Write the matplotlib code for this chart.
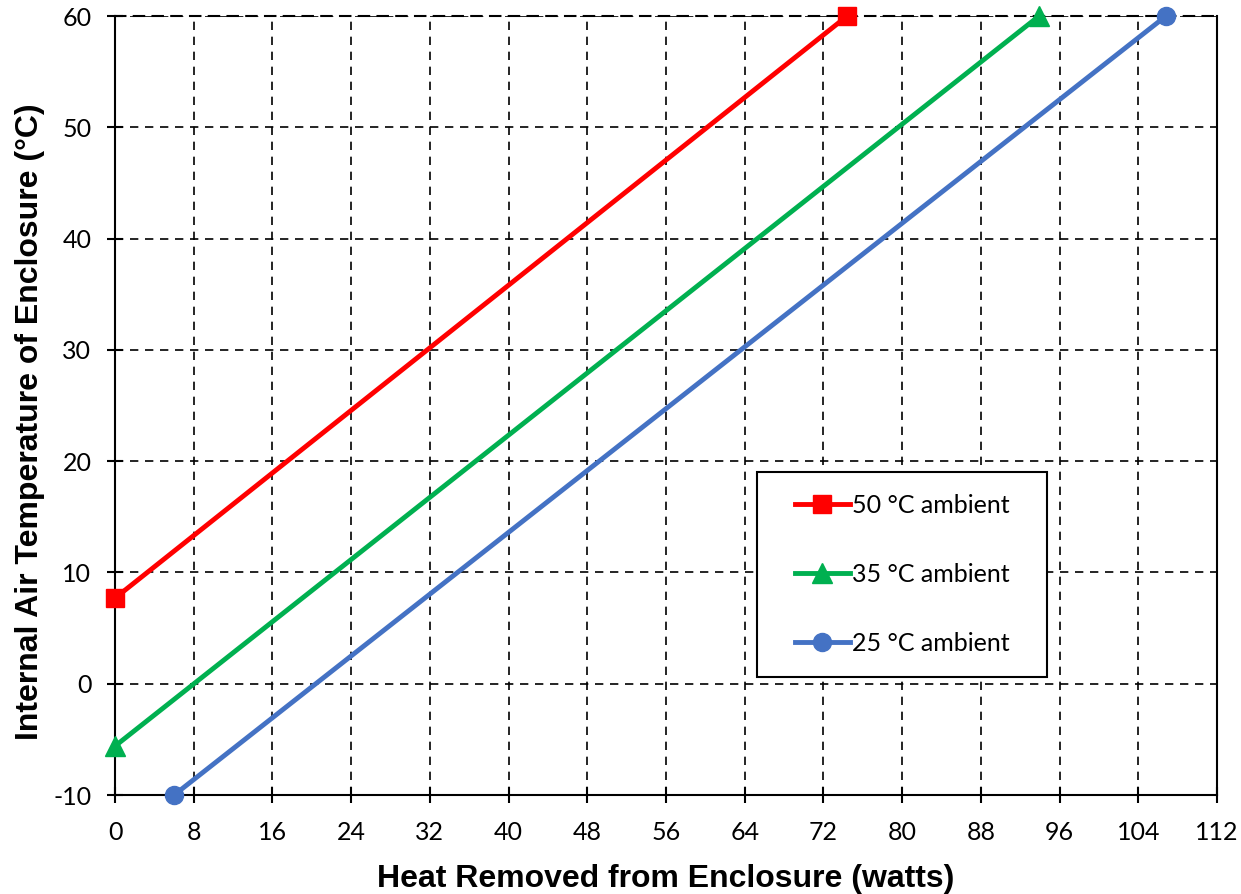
import matplotlib
matplotlib.use("Agg")
import matplotlib.pyplot as plt
from matplotlib.patches import Rectangle

plt.rcParams["axes.unicode_minus"] = False

# Data
series_labels = ["50 °C ambient", "35 °C ambient", "25 °C ambient"]
x_50 = [0, 74.4]
y_50 = [7.7, 60]
x_35 = [0, 93.9]
y_35 = [-5.6, 60]
x_25 = [6.0, 106.8]
y_25 = [-10, 60]
xticks = list(range(0, 113, 8))
yticks = list(range(-10, 61, 10))

fig = plt.figure(figsize=(12.41, 8.94), dpi=100)
ax = fig.add_axes([0.0927, 0.1107, 0.8880, 0.8713])

ax.plot(x_50, y_50, color="#FF0000", lw=3.5, marker="s", ms=13, label=series_labels[0], clip_on=False, zorder=5)
ax.plot(x_35, y_35, color="#00B050", lw=3.5, marker="^", ms=14, label=series_labels[1], clip_on=False, zorder=5)
ax.plot(x_25, y_25, color="#4472C4", lw=3.5, marker="o", ms=13, label=series_labels[2], clip_on=False, zorder=5)

ax.set_xlim(0, 112)
ax.set_ylim(-10, 60)
ax.set_xticks(xticks)
ax.set_yticks(yticks)
ax.grid(True, color="black", linestyle=(0, (5, 4)), linewidth=1.2)
for s in ax.spines.values():
    s.set_linewidth(1.5)
    s.set_color("black")
ax.spines["top"].set_linestyle((0, (5, 4)))
ax.tick_params(direction="inout", length=12, width=1.5, labelsize=18)
ax.tick_params(axis="x", pad=13)
ax.tick_params(axis="y", pad=11)
for lbl in ax.get_xticklabels() + ax.get_yticklabels():
    lbl.set_fontfamily("Lato")

ax.set_xlabel("Heat Removed from Enclosure (watts)", fontsize=23, fontweight="bold",
              fontfamily="Liberation Sans", labelpad=14)
ax.set_ylabel("Internal Air Temperature of Enclosure (°C)", fontsize=23, fontweight="bold",
              fontfamily="Liberation Sans", labelpad=6, y=0.479)

# legend frame drawn separately so contents can be centred in it
frame = Rectangle((0.5826, 0.1515), 0.2632, 0.2632, transform=ax.transAxes,
                  facecolor="white", edgecolor="black", lw=1.5, zorder=6)
ax.add_patch(frame)
leg = ax.legend(loc="center", bbox_to_anchor=(0.7142, 0.2831),
                frameon=False, prop={"family": "Lato", "size": 18}, labelspacing=1.84,
                handlelength=2.2, handletextpad=0.1, borderpad=0, borderaxespad=0)
leg.set_zorder(7)

fig.savefig("out.png", dpi=100)
